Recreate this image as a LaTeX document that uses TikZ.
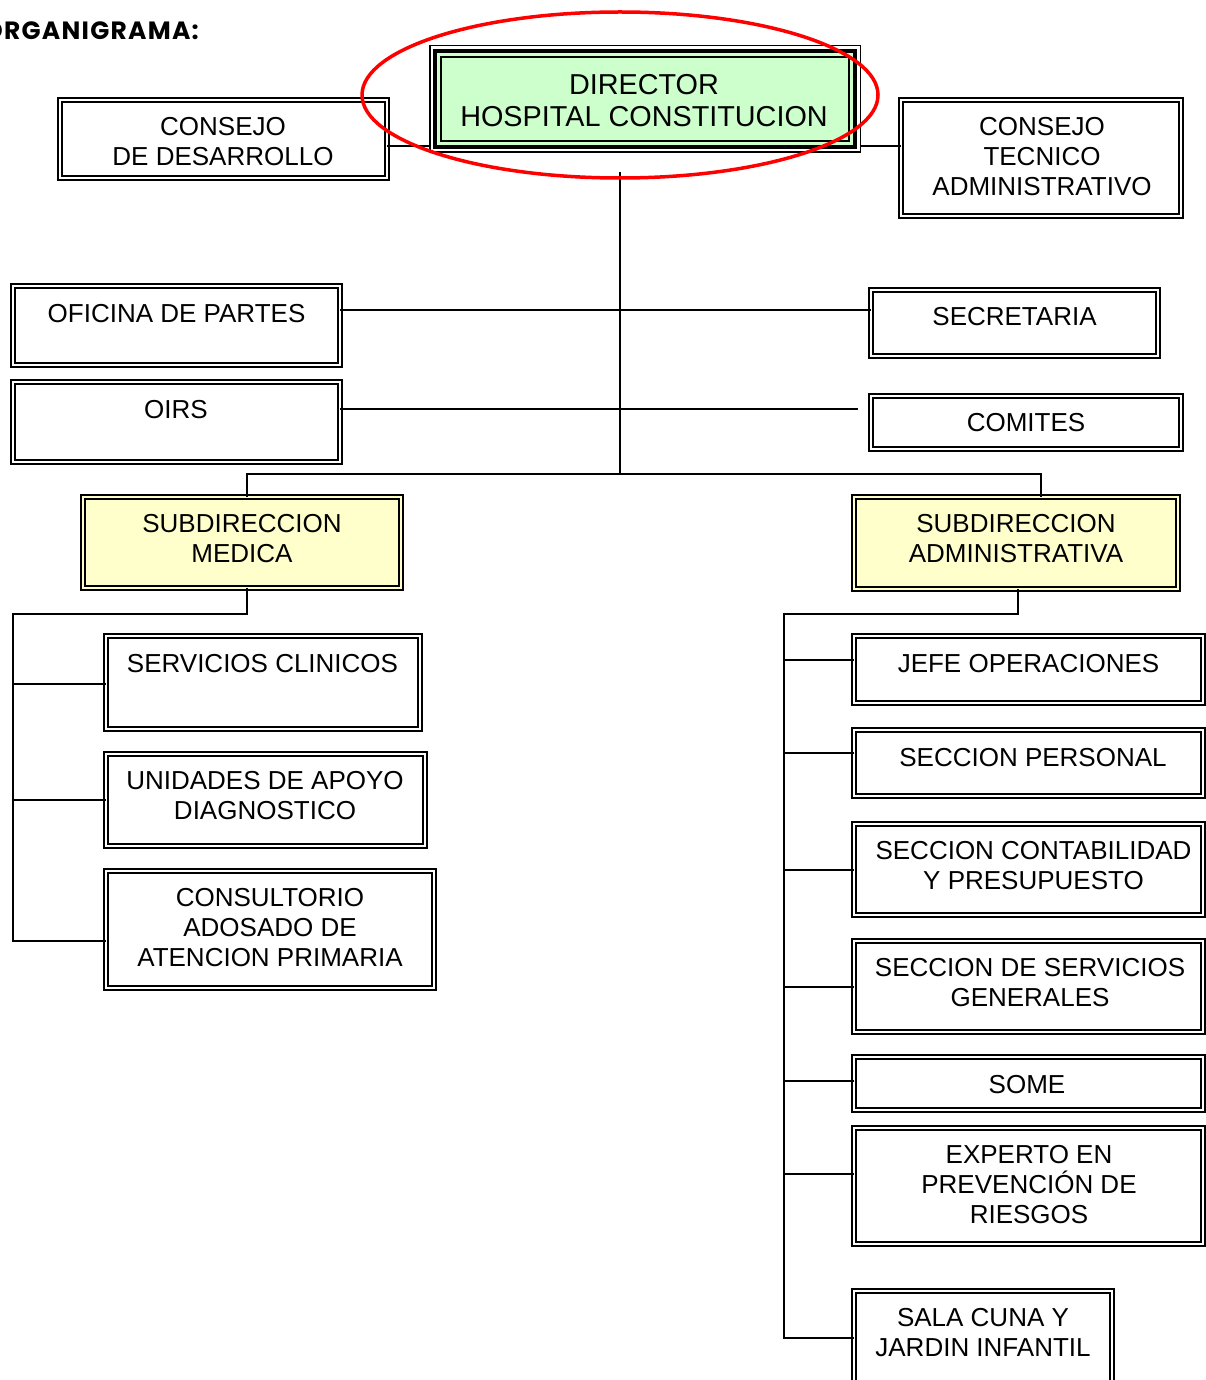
\documentclass[tikz,border=0pt]{standalone}
\usepackage{fontspec}
\setmainfont{Liberation Sans}
\newfontfamily\titlefont[LetterSpace=5]{Poppins}
\definecolor{grn}{HTML}{CCFFCC}
\definecolor{ylw}{HTML}{FFFFCC}
\tikzset{
  box/.style={draw, line width=2.2pt, double=white, double distance=1.8pt, inner sep=0pt, outer sep=0pt},
  ybox/.style={box, fill=ylw, double=ylw},
  txt/.style={font=\fontsize{26}{30}\selectfont, align=center, inner sep=0pt},
  conn/.style={line width=1.8pt},
}
% #1 style, #2 name, #3 x1, #4 y1, #5 x2, #6 y2 (outer edges, pixels)
\newcommand\obox[6]{\node[#1, minimum width={#5-#3-6.2}, minimum height={#6-#4-6.2}] (#2) at ({(#3+#5)/2},{(#4+#6)/2}) {};}
\begin{document}
\begin{tikzpicture}[x=1pt,y=-1pt]
\useasboundingbox (0,0) rectangle (1205,1380);
\fill[white] (0,0) rectangle (1205,1380);

% title
\node[font=\titlefont\bfseries\fontsize{25}{28}\selectfont, anchor=east, inner sep=0pt] (title) at (199,30.5) {ORGANIGRAMA:};

% director box
\node[draw, line width=1.5pt, minimum width=430.5, minimum height=106.5, inner sep=0pt, outer sep=0pt] (dir) at (645,99) {};
\draw[fill=grn, line width=4pt] ([shift={(5.25,5.25)}]dir.north west) rectangle ([shift={(-5.25,-5.25)}]dir.south east);
\draw[line width=1.5pt] ([shift={(11.25,11.25)}]dir.north west) rectangle ([shift={(-11.25,-11.25)}]dir.south east);
\node[font=\fontsize{28.8}{32}\selectfont, align=center, inner sep=0pt] (t-dir) at (644,101) {DIRECTOR\\HOSPITAL CONSTITUCION};

% boxes
\obox{box}{cdd}{57}{97}{390}{181}
\obox{box}{cta}{898}{97}{1184}{219}
\obox{box}{op}{10}{283}{343}{368}
\obox{box}{oirs}{10}{379}{343}{465}
\obox{box}{sec}{868}{287}{1161}{359}
\obox{box}{com}{868}{393}{1184}{452}
\obox{ybox}{sm}{80}{494}{404}{591}
\obox{ybox}{sa}{851}{494}{1181}{592}
\obox{box}{sc}{103}{633}{423}{732}
\obox{box}{ud}{103}{751}{428}{849}
\obox{box}{cons}{103}{868}{437}{991}
\obox{box}{jefe}{851}{633}{1206}{706}
\obox{box}{sp}{851}{727}{1206}{799}
\obox{box}{scp}{851}{821}{1206}{918}
\obox{box}{ssg}{851}{938}{1206}{1035}
\obox{box}{some}{851}{1054}{1206}{1113}
\obox{box}{exp}{851}{1125}{1206}{1247}
\obox{box}{sala}{851}{1288}{1115}{1392}

% texts
\node[txt] (t-cdd) at (223,142) {CONSEJO\\DE DESARROLLO};
\node[txt] (t-cta) at (1042,157) {CONSEJO\\TECNICO\\ADMINISTRATIVO};
\node[txt] (t-op) at (176.5,314) {OFICINA DE PARTES};
\node[txt] (t-oirs) at (176,410) {OIRS};
\node[txt] (t-sec) at (1014.5,317) {SECRETARIA};
\node[txt] (t-com) at (1026,423) {COMITES};
\node[txt] (t-sm) at (242,539) {SUBDIRECCION\\MEDICA};
\node[txt] (t-sa) at (1016,539) {SUBDIRECCION\\ADMINISTRATIVA};
\node[txt] (t-sc) at (262.5,664) {SERVICIOS CLINICOS};
\node[txt] (t-ud) at (265,796) {UNIDADES DE APOYO\\DIAGNOSTICO};
\node[txt] (t-cons) at (270,928) {CONSULTORIO\\ADOSADO DE\\ATENCION PRIMARIA};
\node[txt] (t-jefe) at (1028.5,664) {JEFE OPERACIONES};
\node[txt] (t-sp) at (1033,758) {SECCION PERSONAL};
\node[txt] (t-scp) at (1033.5,866) {SECCION CONTABILIDAD\\Y PRESUPUESTO};
\node[txt] (t-ssg) at (1030,983) {SECCION DE SERVICIOS\\GENERALES};
\node[txt] (t-some) at (1027,1085) {SOME};
\node[txt] (t-exp) at (1029,1185) {EXPERTO EN\\PREVENCIÓN DE\\RIESGOS};
\node[txt] (t-sala) at (983,1333) {SALA CUNA Y\\JARDIN INFANTIL};

% connectors
\coordinate (stemtop) at (620,172);
\coordinate (hub) at (620,474);
\coordinate (comfree) at (858,409);
\coordinate (lbend) at (13,614);
\coordinate (lbot) at (13,941);
\coordinate (rbend) at (784,614);
\coordinate (rbot) at (784,1338);

\draw[conn] (cdd.east |- 0,146) -- (dir.west |- 0,146);
\draw[conn] (dir.east |- 0,146) -- (cta.west |- 0,146);
\draw[conn] (stemtop) -- (hub);
\draw[conn] (op.east |- 0,310) -- (sec.west |- 0,310);
\draw[conn] (oirs.east |- comfree) -- (comfree);
\draw[conn] (sm.north -| 247,0) |- (hub) -| (sa.north -| 1041,0);

\draw[conn] (sm.south -| 247,0) |- (lbend) -- (lbot) -- (cons.west |- lbot);
\draw[conn] (sc.west |- 0,684) -- (lbend |- 0,684);
\draw[conn] (ud.west) -- (ud.west -| lbend);

\draw[conn] (sa.south -| 1018,0) |- (rbend) -- (rbot) -- (sala.west |- rbot);
\draw[conn] (jefe.west |- 0,660) -- (rbend |- 0,660);
\draw[conn] (sp.west |- 0,753) -- (rbend |- 0,753);
\draw[conn] (scp.west |- 0,870) -- (rbend |- 0,870);
\draw[conn] (ssg.west |- 0,987) -- (rbend |- 0,987);
\draw[conn] (some.west |- 0,1081) -- (rbend |- 0,1081);
\draw[conn] (exp.west |- 0,1174) -- (rbend |- 0,1174);

% red ellipse
\draw[red, line width=3.5pt] (620,95) ellipse [x radius=258pt, y radius=83pt];
\end{tikzpicture}
\end{document}
